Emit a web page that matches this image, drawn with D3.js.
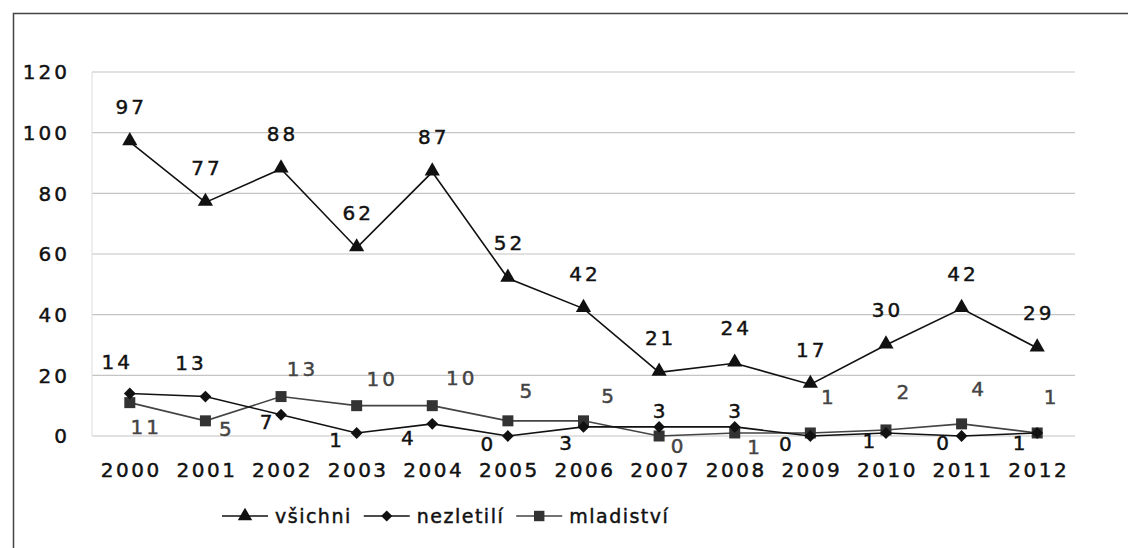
<!DOCTYPE html>
<html>
<head>
<meta charset="utf-8">
<script src="https://cdn.jsdelivr.net/npm/d3@7"></script>
<style>
  body { margin: 0; background: #fff; }
  svg text { font-family: "DejaVu Sans", "Liberation Sans", Arial, sans-serif; stroke-width: 0.45px; }
</style>
</head>
<body>
<div class="chart"></div>
<script>
// data
const years = ['2000','2001','2002','2003','2004','2005','2006','2007','2008','2009','2010','2011','2012']
const vsichni = [97, 77, 88, 62, 87, 52, 42, 21, 24, 17, 30, 42, 29]
const nezletili = [14, 13, 7, 1, 4, 0, 3, 3, 3, 0, 1, 0, 1]
const mladistvi = [11, 5, 13, 10, 10, 5, 5, 0, 1, 1, 2, 4, 1]
const yTicks = [0, 20, 40, 60, 80, 100, 120]

// where each value label sits relative to its marker (centre offsets, px)
const offsVsichni = years.map(() => [0, -35])
const offsNezletili = [[-14,-32],[-16,-34],[-15,7],[-21,7],[-25,14],[-21,8],[-18,16],[0,-16],[0,-16],[-25,8],[-17,8],[-19,7],[-18,10]]
const offsMladistvi = [[15,24],[20,8],[20,-28],[24,-27],[28,-28],[18,-30],[24,-25],[18,10],[19,14],[17,-36],[17,-38],[16,-35],[13,-36]]

var W = 1128, H = 548
var margin = {top: 72, left: 92, right: 1128 - 1075, bottom: 548 - 436}

var svg = d3.select(".chart").append("svg")
  .attr("width", W).attr("height", H)

// outer frame (cut off on the right and bottom like the scan)
svg.append("rect")
  .attr("x", 13.5).attr("y", 13.5)
  .attr("width", 1300).attr("height", 700)
  .attr("fill", "none").attr("stroke", "#444").attr("stroke-width", 1.5)

var x = d3.scaleBand().domain(years).range([margin.left, W - margin.right])
var y = d3.scaleLinear().domain([0, 120]).range([H - margin.bottom, margin.top])

// grid
svg.append("g").selectAll("line")
  .data(yTicks)
  .enter().append("line")
  .attr("x1", margin.left).attr("x2", W - margin.right)
  .attr("y1", d => y(d)).attr("y2", d => y(d))
  .attr("stroke", "#c4c4c4").attr("stroke-width", 1.2)

svg.append("line")
  .attr("x1", margin.left).attr("x2", margin.left)
  .attr("y1", y(120)).attr("y2", y(0))
  .attr("stroke", "#dcdcdc")

// y axis labels
svg.append("g").selectAll("text")
  .data(yTicks)
  .enter().append("text")
  .attr("x", 70).attr("y", d => y(d))
  .attr("dy", "0.36em")
  .attr("text-anchor", "end")
  .style("font-size", "20px").style("letter-spacing", "3px")
  .attr("fill", "#111").attr("stroke", "#111")
  .text(d => d)

// x axis labels
svg.append("g").selectAll("text")
  .data(years)
  .enter().append("text")
  .attr("x", d => x(d) + x.bandwidth() / 2 + 1.5).attr("y", 477)
  .attr("text-anchor", "middle")
  .style("font-size", "20px").style("letter-spacing", "2.5px")
  .attr("fill", "#111").attr("stroke", "#111")
  .text(d => d)

const cx = i => x(years[i]) + x.bandwidth() / 2

const series = [
  {name: "všichni", values: vsichni, offs: offsVsichni, line: "#111", mark: "#111", label: "#111", sym: d3.symbolTriangle, size: 100, rot: 0},
  {name: "nezletilí", values: nezletili, offs: offsNezletili, line: "#111", mark: "#111", label: "#111", sym: d3.symbolSquare, size: 70, rot: 45},
  {name: "mladiství", values: mladistvi, offs: offsMladistvi, line: "#444", mark: "#333", label: "#444", sym: d3.symbolSquare, size: 121, rot: 0}
]

var lineGen = d3.line().x((d, i) => cx(i)).y(d => y(d))

// draw mladiství first so the black lines sit on top like the original
series.slice().reverse().forEach(s => {
  var g = svg.append("g")
  g.append("path")
    .datum(s.values)
    .attr("d", lineGen)
    .attr("fill", "none")
    .attr("stroke", s.line).attr("stroke-width", 1.6)

  g.selectAll("path.m")
    .data(s.values)
    .enter().append("path")
    .attr("class", "m")
    .attr("d", d3.symbol().type(s.sym).size(s.size))
    .attr("transform", (d, i) => "translate(" + cx(i) + "," + (y(d) - (s.sym === d3.symbolTriangle ? 1 : 0)) + ") rotate(" + s.rot + ")")
    .attr("fill", s.mark)

  g.selectAll("text")
    .data(s.values)
    .enter().append("text")
    .attr("x", (d, i) => cx(i) + s.offs[i][0] + 1.5)
    .attr("y", (d, i) => y(d) + s.offs[i][1])
    .attr("dy", "0.36em")
    .attr("text-anchor", "middle")
    .style("font-size", "20px").style("letter-spacing", "3px")
    .attr("fill", s.label).attr("stroke", s.label)
    .text(d => d)
})

// legend
var legend = svg.append("g").attr("transform", "translate(222,516)")
var lx = 0
series.forEach(s => {
  var item = legend.append("g").attr("transform", "translate(" + lx + ",0)")
  item.append("line")
    .attr("x1", 0).attr("x2", 46).attr("y1", 0).attr("y2", 0)
    .attr("stroke", s.line).attr("stroke-width", 1.6)
  item.append("path")
    .attr("d", d3.symbol().type(s.sym).size(s.size * 0.9))
    .attr("transform", "translate(23,0) rotate(" + s.rot + ")")
    .attr("fill", s.mark)
  var t = item.append("text")
    .attr("x", 53).attr("dy", "0.36em")
    .style("font-size", "19px").style("letter-spacing", "1.5px")
    .attr("fill", "#111").attr("stroke", "#111")
    .text(s.name)
  lx += 53 + t.node().getComputedTextLength() + 12
})
</script>
</body>
</html>
